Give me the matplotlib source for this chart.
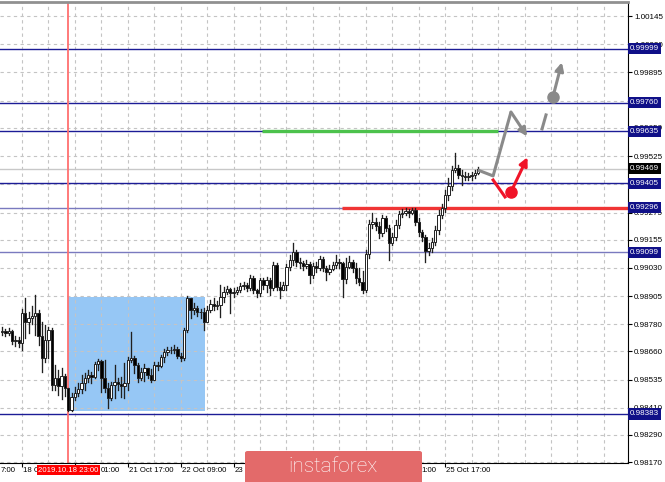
import matplotlib
matplotlib.use("Agg")
import matplotlib.pyplot as plt
import matplotlib.transforms as mtransforms
from matplotlib.patches import Rectangle, FancyBboxPatch

plt.rcParams["font.family"] = ["Liberation Sans", "DejaVu Sans"]

# --- hourly bars (index 0 = 18 Oct 09:00) ---
first_bar = -6
first_open = 0.98745
closes = [
    0.98750, 0.98741, 0.98750, 0.98706, 0.98710, 0.98697, 0.98830, 0.98790, 0.98808, 0.98817,
    0.98830, 0.98728, 0.98630, 0.98710, 0.98755, 0.98510, 0.98541, 0.98506, 0.98550, 0.98497,
    0.98400, 0.98457, 0.98475, 0.98493, 0.98519, 0.98541, 0.98555, 0.98546, 0.98604, 0.98617,
    0.98541, 0.98497, 0.98453, 0.98510, 0.98524, 0.98515, 0.98506, 0.98519, 0.98622, 0.98630,
    0.98599, 0.98541, 0.98568, 0.98586, 0.98555, 0.98533, 0.98599, 0.98595, 0.98635, 0.98657,
    0.98666, 0.98666, 0.98670, 0.98639, 0.98630, 0.98755, 0.98896, 0.98843, 0.98852, 0.98834,
    0.98834, 0.98790, 0.98843, 0.98870, 0.98861, 0.98866, 0.98901, 0.98923, 0.98936, 0.98919,
    0.98923, 0.98932, 0.98950, 0.98954, 0.98941, 0.98985, 0.98932, 0.98919, 0.98976, 0.98954,
    0.98976, 0.98941, 0.99042, 0.98945, 0.98932, 0.98954, 0.99033, 0.99064, 0.99100, 0.99055,
    0.99051, 0.99038, 0.99047, 0.98998, 0.99038, 0.99029, 0.99069, 0.99029, 0.99011, 0.99025,
    0.99042, 0.99055, 0.99051, 0.98980, 0.99033, 0.99055, 0.99029, 0.98985, 0.98967, 0.98932,
    0.99091, 0.99224, 0.99233, 0.99215, 0.99184, 0.99250, 0.99206, 0.99139, 0.99166, 0.99219,
    0.99268, 0.99272, 0.99281, 0.99272, 0.99286, 0.99233, 0.99188, 0.99166, 0.99104, 0.99117,
    0.99144, 0.99197, 0.99264, 0.99295, 0.99352, 0.99392, 0.99463, 0.99472, 0.99441, 0.99436,
    0.99432, 0.99436, 0.99441, 0.99450, 0.99469,
]
highs = [
    0.98768, 0.98759, 0.98764, 0.98755, 0.98728, 0.98724, 0.98848, 0.98896, 0.98834, 0.98861,
    0.98910, 0.98843, 0.98790, 0.98777, 0.98768, 0.98764, 0.98599, 0.98577, 0.98586, 0.98560,
    0.98500, 0.98475, 0.98501, 0.98519, 0.98555, 0.98564, 0.98577, 0.98568, 0.98613, 0.98626,
    0.98622, 0.98622, 0.98519, 0.98524, 0.98599, 0.98541, 0.98546, 0.98608, 0.98635, 0.98746,
    0.98639, 0.98608, 0.98586, 0.98604, 0.98586, 0.98581, 0.98613, 0.98613, 0.98644, 0.98670,
    0.98679, 0.98679, 0.98688, 0.98679, 0.98652, 0.98764, 0.98905, 0.98896, 0.98874, 0.98861,
    0.98848, 0.98852, 0.98861, 0.98888, 0.98896, 0.98883, 0.98954, 0.98945, 0.98950, 0.98941,
    0.98941, 0.98945, 0.98963, 0.98967, 0.98963, 0.98998, 0.98994, 0.98936, 0.98985, 0.98985,
    0.98989, 0.98985, 0.99055, 0.99051, 0.98967, 0.98967, 0.99047, 0.99087, 0.99139, 0.99109,
    0.99073, 0.99060, 0.99064, 0.99055, 0.99051, 0.99055, 0.99082, 0.99078, 0.99038, 0.99042,
    0.99055, 0.99087, 0.99069, 0.99055, 0.99073, 0.99082, 0.99064, 0.99051, 0.99029, 0.99016,
    0.99109, 0.99241, 0.99272, 0.99250, 0.99233, 0.99264, 0.99259, 0.99219, 0.99184, 0.99241,
    0.99281, 0.99290, 0.99295, 0.99290, 0.99295, 0.99295, 0.99250, 0.99197, 0.99175, 0.99139,
    0.99161, 0.99215, 0.99286, 0.99312, 0.99374, 0.99428, 0.99481, 0.99538, 0.99485, 0.99463,
    0.99454, 0.99450, 0.99454, 0.99463, 0.99476,
]
lows = [
    0.98733, 0.98728, 0.98733, 0.98692, 0.98684, 0.98679, 0.98666, 0.98719, 0.98741, 0.98781,
    0.98733, 0.98688, 0.98568, 0.98613, 0.98630, 0.98488, 0.98488, 0.98466, 0.98448, 0.98462,
    0.98395, 0.98398, 0.98444, 0.98462, 0.98475, 0.98488, 0.98524, 0.98519, 0.98541, 0.98577,
    0.98479, 0.98479, 0.98408, 0.98444, 0.98453, 0.98488, 0.98457, 0.98453, 0.98488, 0.98613,
    0.98564, 0.98524, 0.98533, 0.98528, 0.98541, 0.98524, 0.98533, 0.98577, 0.98590, 0.98613,
    0.98644, 0.98652, 0.98652, 0.98630, 0.98617, 0.98622, 0.98746, 0.98808, 0.98826, 0.98817,
    0.98808, 0.98755, 0.98790, 0.98834, 0.98843, 0.98848, 0.98812, 0.98879, 0.98914, 0.98830,
    0.98901, 0.98914, 0.98923, 0.98936, 0.98928, 0.98932, 0.98919, 0.98901, 0.98905, 0.98936,
    0.98923, 0.98910, 0.98932, 0.98932, 0.98896, 0.98932, 0.98932, 0.99020, 0.99042, 0.99038,
    0.99029, 0.99020, 0.99029, 0.98963, 0.98985, 0.99011, 0.99020, 0.99016, 0.98976, 0.99002,
    0.99020, 0.99029, 0.99029, 0.98901, 0.98963, 0.99029, 0.99011, 0.98963, 0.98954, 0.98919,
    0.98923, 0.99073, 0.99206, 0.99197, 0.99161, 0.99170, 0.99193, 0.99064, 0.99131, 0.99153,
    0.99206, 0.99255, 0.99264, 0.99255, 0.99268, 0.99219, 0.99170, 0.99148, 0.99055, 0.99087,
    0.99100, 0.99131, 0.99179, 0.99250, 0.99277, 0.99330, 0.99374, 0.99454, 0.99428, 0.99397,
    0.99419, 0.99419, 0.99419, 0.99428, 0.99445,
]
opens = [first_open] + closes[:-1]
bars = list(range(first_bar, first_bar + len(closes)))

# --- levels ---
blue_levels = [0.99999, 0.99760, 0.99635, 0.99405, 0.98383]
faint_levels = [0.99296, 0.99099]
bid = 0.99469
y_ticks = [1.00145, 1.00020, 0.99895, 0.99770, 0.99650, 0.99525, 0.99400, 0.99275, 0.99155,
           0.99030, 0.98905, 0.98780, 0.98660, 0.98535, 0.98410, 0.98290, 0.98170]
hidden_y = [0.99770, 0.99400]  # fully covered by level tags
# visible parts of the time scale (rest sits under the date tag / logo)
time_ticks = [-16, 0, 16, 32, 48, 64, 112, 128]
time_labels = ["7:00", "18 O", "01:00", "21 Oct 17:00", "22 Oct 09:00", "23", "1:00", "25 Oct 17:00"]
time_shift = [9.4, 0.3, 7.9, 0.3, 0.3, 0.3, 8.7, 0.3]
marker_bar = 14
marker_label = "2019.10.18 23:00"

# --- figure ---
fig = plt.figure(figsize=(6.65, 4.82), dpi=100)
ax = fig.add_axes([0, 19 / 482, 628 / 665, 461 / 482])
ax.set_xlim(-6.655, 183.3)
ax.set_ylim(0.98166, 1.00207)

# grid
for g in range(0, 184, 8):
    ax.axvline(g, color="#c4c4c4", lw=0.8, ls=(0, (3, 3)), zorder=1)
for t in y_ticks:
    ax.axhline(t, color="#c4c4c4", lw=0.8, ls=(0, (3, 3)), zorder=1)

# blue box
ax.add_patch(Rectangle((14, 0.98395), 41.4, 0.98901 - 0.98395, facecolor="#96c7f5",
                       edgecolor="none", zorder=0.5))

# level lines
for lv in blue_levels:
    ax.axhline(lv, color="#1c1c96", lw=1.0, zorder=2)
for lv in faint_levels:
    ax.axhline(lv, color="#7a7abf", lw=1.0, zorder=2)
ax.axhline(bid, color="#c8c8c8", lw=1.0, zorder=2)
ax.axvline(marker_bar, color="#ff7070", lw=1.3, zorder=2)
ax.plot([72.6, 144], [0.99635, 0.99635], color="#4cc24c", lw=2.4, zorder=2.5, solid_capstyle="butt")
ax.plot([96.8, 184], [0.99296, 0.99296], color="#f03535", lw=2.4, zorder=2.5, solid_capstyle="butt")

# candles
for b, o, h, l, c in zip(bars, opens, highs, lows, closes):
    ax.plot([b, b], [l, h], color="#202020", lw=0.95, zorder=3)
    up = c >= o
    ax.bar(b, max(abs(c - o), 0.000015), bottom=min(o, c), width=0.72,
           color="white" if up else "black", edgecolor="#202020", linewidth=0.7, zorder=4)

# forecast arrows
grey = "#8a8a8a"
red = "#f01428"
ax.plot([137.9, 142.5, 147.9], [0.99463, 0.99437, 0.99720], color=grey, lw=2.2, zorder=5,
        solid_capstyle="butt")
ax.annotate("", xy=(152.8, 0.99612), xytext=(147.9, 0.99720),
            arrowprops=dict(arrowstyle="-|>", color=grey, lw=2.2, mutation_scale=12, shrinkA=0, shrinkB=0), zorder=5)
ax.plot([157.3, 158.5], [0.99645, 0.99707], color=grey, lw=2.2, zorder=5)
ax.plot([160.6], [0.99787], "o", color=grey, ms=8, zorder=5)
ax.annotate("", xy=(163.3, 0.99940), xytext=(160.6, 0.99787),
            arrowprops=dict(arrowstyle="-|>", color=grey, lw=2.2, mutation_scale=12, shrinkA=0, shrinkB=0), zorder=5)
ax.plot([142.5, 146.1], [0.99419, 0.99344], color=red, lw=2.2, zorder=5)
ax.plot([147.9], [0.99366], "o", color=red, ms=8, zorder=5)
ax.annotate("", xy=(152.9, 0.99520), xytext=(147.9, 0.99366),
            arrowprops=dict(arrowstyle="-|>", color=red, lw=2.2, mutation_scale=12, shrinkA=0, shrinkB=0), zorder=5)

# axes styling
ax.spines["left"].set_visible(False)
ax.spines["top"].set_color("#909090")
ax.spines["top"].set_linewidth(2)
ax.spines["right"].set_color("black")
ax.spines["bottom"].set_color("black")
ax.yaxis.tick_right()
ax.set_yticks(y_ticks)
ax.set_yticklabels(["" if t in hidden_y else f"{t:.5f}" for t in y_ticks], fontsize=5.8)
ax.tick_params(axis="y", direction="out", length=3, pad=1.5, width=0.8)
ax.set_xticks([0, 16, 32, 48, 64, 112, 128])
ax.set_xticklabels([])
ax.tick_params(axis="x", direction="out", length=3, width=0.8)

xtrans = ax.get_xaxis_transform()
for t, lab, sh in zip(time_ticks, time_labels, time_shift):
    ax.text(t + sh, -0.0155, lab, transform=xtrans, ha="left", va="center", fontsize=5.6,
            color="black", clip_on=False, zorder=6)
ax.text(marker_bar, -0.0155, marker_label, transform=xtrans, ha="center", va="center",
        fontsize=5.6, color="white", clip_on=False, zorder=7,
        bbox=dict(boxstyle="square,pad=0.2", fc="#ff0000", ec="none"))

# level tags on the price scale
ytrans = mtransforms.blended_transform_factory(ax.transAxes, ax.transData)
for lv in blue_levels + faint_levels:
    ax.text(1.003, lv, f"{lv:.5f}", transform=ytrans, ha="left", va="center", fontsize=5.8,
            color="white", clip_on=False, zorder=8,
            bbox=dict(boxstyle="square,pad=0.25", fc="#101088", ec="none"))
ax.text(1.003, bid, f"{bid:.5f}", transform=ytrans, ha="left", va="center", fontsize=5.8,
        color="white", clip_on=False, zorder=8,
        bbox=dict(boxstyle="square,pad=0.25", fc="black", ec="none"))

# watermark
fig.add_artist(FancyBboxPatch((245 / 665, -0.02), 177 / 665, 31 / 482 + 0.02,
                              boxstyle="round,pad=0,rounding_size=0.004",
                              transform=fig.transFigure, fc="#e36a6a", ec="none", zorder=10))
fig.text(333 / 665, 16 / 482, "instaforex", ha="center", va="center", fontsize=15,
         color="white", family="Roboto", fontweight="light", zorder=11)

fig.savefig("out.png", dpi=100)
